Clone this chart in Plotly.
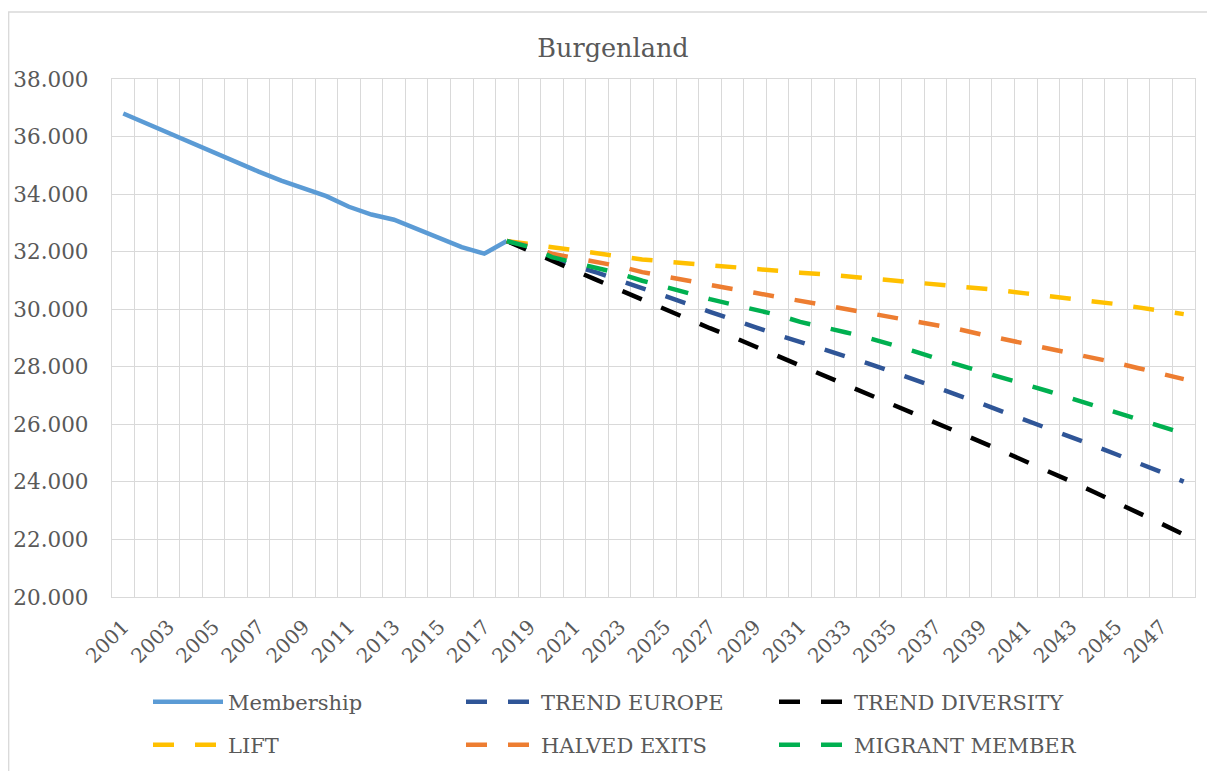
import plotly.graph_objects as go

# Jahre
years_hist = list(range(2001, 2019))
years_proj = list(range(2018, 2049))

# Mitglieder
membership = [36800, 36460, 36120, 35780, 35440, 35100, 34780, 34470, 34190,
              33930, 33560, 33290, 33110, 32800, 32460, 32160, 31930, 32370]

# Szenarien 2018-2048
trend_europe = [32370, 32080, 31760, 31500, 31270, 31010, 30730, 30470, 30190, 29910,
                29660, 29380, 29110, 28870, 28620, 28370, 28120, 27850, 27580, 27300,
                27020, 26730, 26430, 26150, 25860, 25570, 25270, 24960, 24660, 24340, 24010]
trend_diversity = [32370, 32040, 31690, 31350, 31010, 30670, 30330, 29990, 29660, 29340,
                   29040, 28710, 28380, 28050, 27720, 27390, 27060, 26730, 26400, 26090,
                   25760, 25420, 25060, 24710, 24380, 24020, 23660, 23300, 22930, 22550, 22170]
lift = [32370, 32260, 32150, 32030, 31920, 31820, 31730, 31660, 31590, 31520,
        31450, 31390, 31330, 31270, 31220, 31150, 31100, 31020, 30960, 30880,
        30810, 30720, 30650, 30550, 30470, 30380, 30270, 30180, 30060, 29960, 29830]
halved_exits = [32370, 32200, 31930, 31780, 31630, 31490, 31290, 31140, 30980, 30840,
                30700, 30570, 30430, 30290, 30150, 30020, 29880, 29740, 29610, 29460,
                29310, 29130, 28970, 28790, 28640, 28470, 28310, 28140, 27950, 27770, 27570]
migrant_member = [32370, 32160, 31810, 31630, 31440, 31240, 30990, 30800, 30570, 30350,
                  30160, 29970, 29800, 29560, 29400, 29200, 29010, 28790, 28550, 28300,
                  28060, 27830, 27600, 27380, 27150, 26910, 26670, 26440, 26200, 25920, 25680]

tick_years = list(range(2001, 2049, 2))

FONT = "DejaVu Serif"
GREY = "#595959"
GRID = "#d9d9d9"
DASH = "21px,21px"
LW = 4.5

# die Seite hat 8px Rand -> Figur etwas kleiner
W, H = 1207, 763

fig = go.Figure()

fig.add_trace(go.Scatter(x=years_hist, y=membership, mode="lines", name="Membership",
                         line=dict(color="#5b9bd5", width=LW), legend="legend"))
fig.add_trace(go.Scatter(x=years_proj, y=trend_europe, mode="lines", name="TREND EUROPE",
                         line=dict(color="#2f5597", width=LW, dash=DASH), legend="legend"))
fig.add_trace(go.Scatter(x=years_proj, y=trend_diversity, mode="lines", name="TREND DIVERSITY",
                         line=dict(color="#000000", width=LW, dash=DASH), legend="legend"))
fig.add_trace(go.Scatter(x=years_proj, y=lift, mode="lines", name="LIFT",
                         line=dict(color="#ffc000", width=LW, dash=DASH), legend="legend2"))
fig.add_trace(go.Scatter(x=years_proj, y=halved_exits, mode="lines", name="HALVED EXITS",
                         line=dict(color="#ed7d31", width=LW, dash=DASH), legend="legend2"))
fig.add_trace(go.Scatter(x=years_proj, y=migrant_member, mode="lines", name="MIGRANT MEMBER",
                         line=dict(color="#00b050", width=LW, dash=DASH), legend="legend2"))

# x-Achse: Gitterlinien zwischen den Kategorien
fig.update_xaxes(
    range=[2000.5, 2048.5],
    tickmode="array",
    tickvals=tick_years,
    ticktext=[str(y) for y in tick_years],
    tickangle=-45,
    showgrid=False,
    minor=dict(tick0=2000.5, dtick=1, showgrid=True, gridcolor=GRID, gridwidth=1.3),
    showline=True, mirror=True, linecolor=GRID, linewidth=1.3,
    ticks="", ticklabelstandoff=9,
    tickfont=dict(family=FONT, size=20, color=GREY),
    zeroline=False, automargin=False,
)

fig.update_yaxes(
    range=[20000, 38000],
    dtick=2000,
    tickformat=",d",
    gridcolor=GRID, gridwidth=1.3,
    showline=True, mirror=True, linecolor=GRID, linewidth=1.3,
    ticks="", ticklabelstandoff=18,
    tickfont=dict(family=FONT, size=21.5, color=GREY),
    zeroline=False, automargin=False,
)

legend_common = dict(
    orientation="h",
    xref="container", yref="container",
    xanchor="left", yanchor="middle",
    font=dict(family=FONT, size=21, color=GREY),
    itemwidth=70,
    entrywidth=228, entrywidthmode="pixels",
    bgcolor="rgba(0,0,0,0)",
)

fig.update_layout(
    width=W, height=H,
    margin=dict(l=104, r=20, t=71, b=174, autoexpand=False),
    paper_bgcolor="white", plot_bgcolor="white",
    separators=",.",
    title=dict(text="Burgenland", x=605 / W, xref="container", xanchor="center",
               y=1 - 40 / H, yref="container", yanchor="middle",
               font=dict(family=FONT, size=25.5, color=GREY)),
    legend=dict(x=140 / W, y=1 - 694 / H, **legend_common),
    legend2=dict(x=140 / W, y=1 - 737 / H, **legend_common),
    shapes=[dict(type="rect", xref="paper", yref="paper",
                 x0=(0.7 - 104) / 1083, x1=(1225 - 104) / 1083,
                 y0=(589 - 790) / 518, y1=(589 - 4) / 518,
                 line=dict(color=GRID, width=1.3), layer="below")],
)

fig.write_html("out.html")
